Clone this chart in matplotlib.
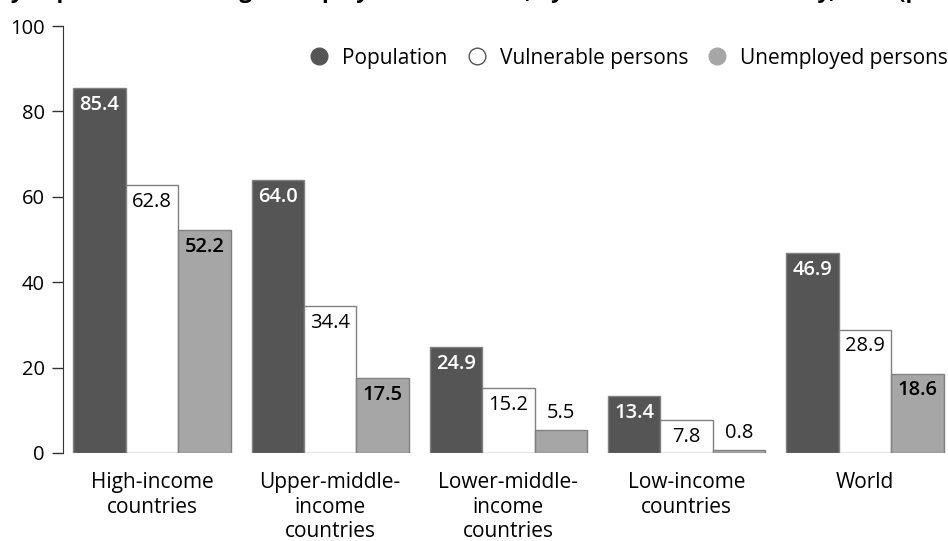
import numpy as np
import matplotlib.pyplot as plt
from matplotlib.lines import Line2D

plt.rcParams['font.family'] = ['Open Sans', 'DejaVu Sans']

# Data
groups = ['High-income\ncountries', 'Upper-middle-\nincome\ncountries',
          'Lower-middle-\nincome\ncountries', 'Low-income\ncountries', 'World']
population = [85.4, 64.0, 24.9, 13.4, 46.9]
vulnerable = [62.8, 34.4, 15.2, 7.8, 28.9]
unemployed = [52.2, 17.5, 5.5, 0.8, 18.6]
series_names = ['Population', 'Vulnerable persons', 'Unemployed persons']

dark, light = '#555555', '#a6a6a6'
edge = '#808080'

fig = plt.figure(figsize=(9.48, 5.41), dpi=100)
ax = fig.add_axes([63 / 948, 1 - 453 / 541, 1 - 63 / 948, (453 - 26) / 541])

x = np.arange(len(groups))
w = 0.294
ax.bar(x - w, population, w, color=dark, edgecolor=edge, linewidth=1)
ax.bar(x, vulnerable, w, color='white', edgecolor=edge, linewidth=1)
ax.bar(x + w, unemployed, w, color=light, edgecolor=edge, linewidth=1)

# value labels
fs = 14.5
for i in range(len(groups)):
    ax.text(x[i] - w, population[i] - 1.6, f'{population[i]:.1f}', ha='center', va='top',
            color='white', fontsize=fs, fontweight='semibold')
    ax.text(x[i], vulnerable[i] - 1.6, f'{vulnerable[i]:.1f}', ha='center', va='top',
            color='black', fontsize=fs)
    if unemployed[i] > 10:
        ax.text(x[i] + w, unemployed[i] - 1.6, f'{unemployed[i]:.1f}', ha='center', va='top',
                color='black', fontsize=fs, fontweight='semibold')
    else:
        ax.text(x[i] + w, unemployed[i] + 1.6, f'{unemployed[i]:.1f}', ha='center', va='bottom',
                color='black', fontsize=fs, fontweight='medium')

ax.set_xlim(-0.499, 4.466)
ax.set_ylim(0, 100)
ax.set_yticks([0, 20, 40, 60, 80, 100])
ax.tick_params(axis='y', length=8, width=1, labelsize=fs, pad=5, color='#333333')
ax.set_xticks(x)
ax.set_xticklabels(groups, fontsize=15, linespacing=1.2)
ax.tick_params(axis='x', length=0, pad=14)
for s in ['top', 'right', 'bottom']:
    ax.spines[s].set_visible(False)
ax.spines['left'].set_color('#333333')

handles = [Line2D([], [], marker='o', linestyle='none', markersize=12,
                  markerfacecolor=c, markeredgecolor=ec)
           for c, ec in [(dark, dark), ('white', '#555555'), (light, light)]]
ax.legend(handles, series_names, loc='center right', bbox_to_anchor=(1.0, 0.925),
          ncol=3, frameon=False, fontsize=15, handlelength=1.0, handletextpad=0.6,
          columnspacing=0.9, borderaxespad=0, borderpad=0)

# title, clipped at the top edge of the picture as in the reference
fig.text(0.004, 1 + 2 / 541,
         'ly in protection during unemployment benefits, by income level of country, 2020 (percentage)',
         fontsize=16, fontweight='bold', va='baseline', ha='left')

fig.savefig('out.png', dpi=100)
